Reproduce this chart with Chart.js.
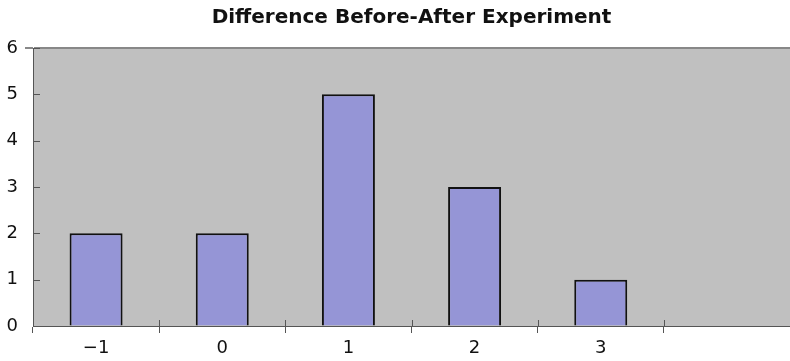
<!DOCTYPE html>
<html>
<head>
<meta charset="utf-8">
<script src="https://cdn.jsdelivr.net/npm/chart.js@4"></script>
<style>
  html, body { margin: 0; padding: 0; background: #fff; }
  #wrap { width: 790px; height: 361px; }
</style>
</head>
<body>
<div id="wrap"><canvas id="chart"></canvas></div>
<script>
// categories and counts
var categories = ['\u22121', '0', '1', '2', '3', ''];
var counts = [2, 2, 5, 3, 1, null];
var yTicks = [0, 1, 2, 3, 4, 5, 6];

var titleText = 'Difference Before-After Experiment';
var fontFamily = '"DejaVu Sans", Arial, sans-serif';

// gray plot background
var plotBackground = {
    id: 'plotBackground',
    beforeDraw: function (chart) {
        var a = chart.chartArea, ctx = chart.ctx;
        ctx.save();
        ctx.fillStyle = '#c0c0c0';
        ctx.fillRect(a.left, a.top, a.right - a.left, a.bottom - a.top);
        ctx.restore();
    }
};

// short tick marks that poke into the plot area (old excel style)
var innerTicks = {
    id: 'innerTicks',
    afterDatasetsDraw: function (chart) {
        var ctx = chart.ctx, a = chart.chartArea;
        var x = chart.scales.x, y = chart.scales.y;
        ctx.save();
        ctx.strokeStyle = '#555';
        ctx.lineWidth = 1;
        ctx.beginPath();
        for (var i = 1; i < categories.length; i++) {
            var px = Math.round(x.getPixelForTick(i) - x.width / categories.length / 2) + 0.5;
            ctx.moveTo(px, a.bottom);
            ctx.lineTo(px, a.bottom - 6);
        }
        for (var j = 0; j < yTicks.length; j++) {
            var py = Math.round(y.getPixelForValue(yTicks[j])) + 0.5;
            ctx.moveTo(a.left, py);
            ctx.lineTo(a.left + 7, py);
        }
        ctx.stroke();
        ctx.restore();
    }
};

new Chart(document.getElementById('chart'), {
    type: 'bar',
    data: {
        labels: categories,
        datasets: [{
            data: counts,
            backgroundColor: '#9595d6',
            borderColor: '#111',
            borderWidth: 2,
            barPercentage: 0.7,
            categoryPercentage: 0.6
        }]
    },
    options: {
        responsive: true,
        maintainAspectRatio: false,
        animation: false,
        layout: { padding: { left: 0, right: 0, top: 0, bottom: 0 } },
        plugins: {
            legend: { display: false },
            tooltip: { enabled: false },
            title: {
                display: true,
                fullSize: false,  // centre over the plot area, not the canvas
                text: titleText,
                color: '#111',
                font: { family: fontFamily, size: 20, weight: 'bold' },
                padding: { top: 6, bottom: 18 }
            }
        },
        scales: {
            x: {
                offset: true,
                grid: {
                    offset: true,
                    drawOnChartArea: false,
                    drawTicks: true,
                    tickLength: 7,
                    color: '#555'
                },
                border: { display: true, color: '#555', width: 1 },
                ticks: {
                    color: '#111',
                    padding: 5,
                    font: { family: fontFamily, size: 18 }
                },
                afterFit: function (s) { s.height = 35; }
            },
            y: {
                min: 0,
                max: 6,
                afterBuildTicks: function (s) {
                    s.ticks = yTicks.map(function (v) { return { value: v }; });
                },
                grid: {
                    drawOnChartArea: true,
                    drawTicks: true,
                    tickLength: 8,
                    color: function (c) { return c.tick && c.tick.value === 6 ? '#888' : 'rgba(0,0,0,0)'; },
                    lineWidth: function (c) { return c.tick && c.tick.value === 6 ? 2 : 1; }
                },
                border: { display: true, color: '#555', width: 1 },
                ticks: {
                    color: '#111',
                    padding: 7,
                    font: { family: fontFamily, size: 18 }
                },
                afterFit: function (s) { s.width = 33; }
            }
        }
    },
    plugins: [plotBackground, innerTicks]
});
</script>
</body>
</html>
